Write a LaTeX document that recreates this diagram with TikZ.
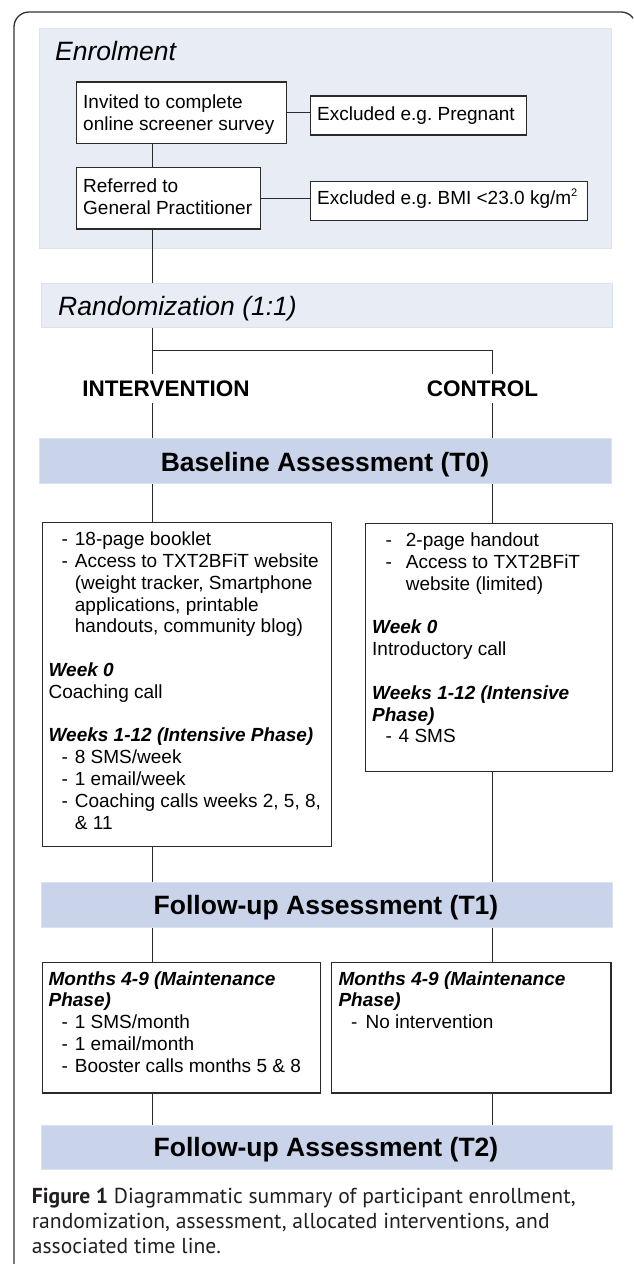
\documentclass[tikz,border=0pt]{standalone}
\usepackage{fontspec}
\setmainfont{Liberation Sans}
\newfontfamily\capfont{PT Sans}
\definecolor{lightband}{HTML}{E7ECF5}
\definecolor{lightbandedge}{HTML}{DCE3F0}
\definecolor{darkband}{HTML}{C9D4EB}
\definecolor{darkbandedge}{HTML}{DAE2F1}
\definecolor{linecol}{HTML}{2A2A2A}
\definecolor{framecol}{HTML}{333333}
\definecolor{captcol}{HTML}{231F20}
\frenchspacing
\newcommand{\bodyfont}{\fontsize{19}{21.8}\selectfont}
\newcommand{\itmL}[1]{\hspace*{13pt}\makebox[13.3pt][l]{-}#1}
\newcommand{\cntL}[1]{\hspace*{26.3pt}#1}
\newcommand{\itmR}[1]{\hspace*{13.5pt}\makebox[20.2pt][l]{-}#1}
\newcommand{\cntR}[1]{\hspace*{33.7pt}#1}
\newcommand{\hd}[1]{\textbf{\textit{#1}}}
\newcommand{\blk}[2]{\parbox[t]{#1}{\bodyfont\raggedright #2}}
\newcommand{\suptwo}{\raisebox{7.5pt}{\fontsize{11}{11}\selectfont 2}}
\begin{document}
\begin{tikzpicture}[x=1pt,y=-1pt,
  lband/.style={fill=lightband, draw=lightbandedge, line width=1pt, inner sep=0pt, anchor=north west},
  dband/.style={fill=darkband, draw=darkbandedge, line width=1pt, inner sep=0pt, anchor=north west},
  flowbox/.style={draw=linecol, line width=1.4pt, fill=white, inner sep=0pt, anchor=north west},
  txt/.style={inner sep=0pt, anchor=base west, font=\bodyfont},
  headit/.style={inner sep=0pt, anchor=base west, font=\fontsize{26.5}{30}\selectfont\itshape},
  armlabel/.style={inner xsep=0pt, inner ysep=6.4pt, anchor=base, font=\fontsize{22.5}{26}\selectfont\bfseries},
  asstxt/.style={inner sep=0pt, anchor=base, font=\fontsize{26.5}{30}\selectfont\bfseries},
  conn/.style={draw=linecol, line width=1.2pt}
]
\useasboundingbox (0,0) rectangle (633,1264);
\clip (0,0) rectangle (633,1264);
\fill[white] (0,0) rectangle (633,1264);
% outer frame
\draw[framecol, line width=1.3pt, rounded corners=15pt] (14,1300) -- (14,12) -- (636,12) -- (636,1300);

% bands
\node[lband, minimum width=572pt, minimum height=220pt] (enrol) at (39,28.3) {};
\node[lband, minimum width=571pt, minimum height=44pt] (rand) at (41,282.7) {};
\node[dband, minimum width=572pt, minimum height=45pt] (base) at (39,438.3) {};
\node[dband, minimum width=571pt, minimum height=45pt] (tone) at (41,882.3) {};
\node[dband, minimum width=571pt, minimum height=44.3pt] (ttwo) at (41,1125) {};

\node[headit] (enrolt) at (55,60.7) {Enrolment};
\node[headit] (randt) at (58,315) {Randomization (1:1)};
\node[asstxt] (baset) at (325,471.7) {Baseline Assessment (T0)};
\node[asstxt] (tonet) at (326,914) {Follow-up Assessment (T1)};
\node[asstxt] (ttwot) at (326,1156) {Follow-up Assessment (T2)};

% enrolment boxes
\node[flowbox, minimum width=210pt, minimum height=61.7pt] (box1) at (76,81.3) {};
\node[flowbox, minimum width=216pt, minimum height=39pt] (ex1) at (310,95.3) {};
\node[flowbox, minimum width=184pt, minimum height=61.6pt] (box2) at (76,166.7) {};
\node[flowbox, minimum width=277pt, minimum height=38.7pt] (ex2) at (310,181) {};

\node[txt] (box1t) at (83,108.3) {\blk{200pt}{Invited to complete\\online screener survey}};
\node[txt] (ex1t) at (317,120.7) {Excluded e.g. Pregnant};
\node[txt] (box2t) at (83,192.7) {\blk{200pt}{Referred to\\General Practitioner}};
\node[txt] (ex2t) at (317,204.3) {Excluded e.g. BMI <23.0 kg/m\suptwo};

% arm labels
\node[armlabel] (intv) at (166,396) {INTERVENTION};
\node[armlabel] (ctrl) at (482.6,396) {CONTROL};

% intervention boxes
\node[flowbox, minimum width=289.4pt, minimum height=324.3pt] (ibox) at (41.6,521.7) {};
\node[flowbox, minimum width=247pt, minimum height=248pt] (cbox) at (365,522.7) {};
\node[flowbox, minimum width=278.4pt, minimum height=130.6pt] (mbox) at (41.6,961.7) {};
\node[flowbox, minimum width=279.4pt, minimum height=130.6pt] (nbox) at (331,961.7) {};

\node[txt] (iboxt) at (48.4,545.7) {\blk{285pt}{%
\itmL{18-page booklet}\\
\itmL{Access to TXT2BFiT website}\\
\cntL{(weight tracker, Smartphone}\\
\cntL{applications, printable}\\
\cntL{handouts, community blog)}\\[21.8pt]
\hd{Week 0}\\
Coaching call\\[21.8pt]
\hd{Weeks 1-12 (Intensive Phase)}\\
\itmL{8 SMS/week}\\
\itmL{1 email/week}\\
\itmL{Coaching calls weeks 2, 5, 8,}\\
\cntL{\& 11}}};

\node[txt] (cboxt) at (372,546.7) {\blk{240pt}{%
\itmR{2-page handout}\\
\itmR{Access to TXT2BFiT}\\
\cntR{website (limited)}\\[21.8pt]
\hd{Week 0}\\
Introductory call\\[21.8pt]
\hd{Weeks 1-12 (Intensive}\\
\hd{Phase)}\\
\hspace*{13.5pt}\makebox[13pt][l]{-}4 SMS}};

\node[txt] (mboxt) at (48.4,985) {\blk{275pt}{%
\hd{Months 4-9 (Maintenance}\\
\hd{Phase)}\\
\itmL{1 SMS/month}\\
\itmL{1 email/month}\\
\itmL{Booster calls months 5 \& 8}}};

\node[txt] (nboxt) at (338.3,985) {\blk{270pt}{%
\hd{Months 4-9 (Maintenance}\\
\hd{Phase)}\\
\hspace*{12.7pt}\makebox[14.4pt][l]{-}No intervention}};

% caption
\node[inner sep=0pt, anchor=base west, text=captcol] (capt) at (31.7,1203.3)
  {\parbox[t]{598pt}{\capfont\fontsize{21.6}{25}\selectfont\raggedright
  \textbf{Figure 1} Diagrammatic summary of participant enrollment,\\
  randomization, assessment, allocated interventions, and\\
  associated time line.}};

% connectors
\coordinate (vx) at (152.6,0);
\coordinate (cx) at (492.5,0);
\coordinate (sp) at (152.6,350.7);
\draw[conn] (box1.east) -- (box1.east -| ex1.west);
\draw[conn] (box2.east) -- (box2.east -| ex2.west);
\draw[conn] (box1.south -| vx) -- (box2.north -| vx);
\draw[conn] (box2.south -| vx) -- (rand.north -| vx);
\draw[conn] (rand.south -| vx) -- (intv.north -| vx);
\draw[conn] (sp) -| (ctrl.north -| cx);
\draw[conn] (intv.south -| vx) -- (base.north -| vx);
\draw[conn] (ctrl.south -| cx) -- (base.north -| cx);
\draw[conn] (base.south -| vx) -- (ibox.north -| vx);
\draw[conn] (base.south -| cx) -- (cbox.north -| cx);
\draw[conn] (ibox.south -| vx) -- (tone.north -| vx);
\draw[conn] (cbox.south -| cx) -- (tone.north -| cx);
\draw[conn] (tone.south -| vx) -- (mbox.north -| vx);
\draw[conn] (tone.south -| cx) -- (nbox.north -| cx);
\draw[conn] (mbox.south -| vx) -- (ttwo.north -| vx);
\draw[conn] (nbox.south -| cx) -- (ttwo.north -| cx);
\end{tikzpicture}
\end{document}
